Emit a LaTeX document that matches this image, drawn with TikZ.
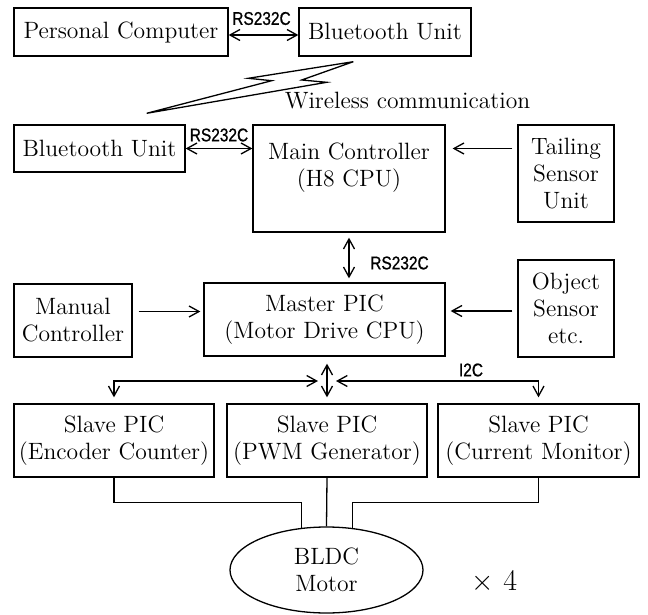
\documentclass[tikz,border=0pt]{standalone}
\usepackage{fontspec}
\newfontfamily\sigfont[FakeStretch=0.84,FakeBold=0.8]{Liberation Sans}
\usetikzlibrary{arrows.meta,shapes.geometric}
\begin{document}
\begin{tikzpicture}[x=0.5pt,y=-0.5pt,>={Straight Barb[length=5pt,width=5.5pt]},
    box/.style={draw,line width=0.65pt,align=center,inner sep=1pt,font=\fontsize{11.8}{13.5}\selectfont},
    sig/.style={font=\sigfont\fontsize{9.2}{10}\selectfont,inner sep=0pt},
    link/.style={line width=0.65pt}]
    \useasboundingbox (0,0) rectangle (648,615);
    % top row
    \node[box,minimum width=107pt,minimum height=24pt] (pc) at (121,32) {Personal Computer};
    \node[box,minimum width=86pt,minimum height=24pt] (btA) at (385,32) {Bluetooth Unit};
    \draw[link,<->] ([yshift=-1.5pt]pc.east) -- ([yshift=-1.5pt]btA.west);
    \node[sig] (rsA) at (261.5,18.5) {RS232C};
    % wireless link
    \draw[link] (146.7,113.3) -- (271.7,80.7) -- (248.3,78.3) -- (353.3,61.7)
        -- (301.7,80) -- (326.7,82.3) -- cycle;
    \node[box,draw=none] (wl) at (407.5,101) {Wireless communication};
    % main controller row
    \node[box,minimum width=85.5pt,minimum height=23.5pt] (btB) at (99.5,148.5) {Bluetooth Unit};
    \node[box,minimum width=96pt,minimum height=53.5pt] (main) at (349,178.5) {Main Controller\\(H8 CPU)\\\mbox{}};
    \node[box,minimum width=48pt,minimum height=48.5pt] (tail) at (566,173.5) {Tailing\\Sensor\\Unit};
    \draw[link,<->] (btB.east) -- (btB.east -| main.west);
    \node[sig] (rsB) at (219,135) {RS232C};
    \draw[link,->,shorten <=2.5pt,shorten >=3.5pt] (tail.west |- btB.east) -- (btB.east -| main.east);
    % master row
    \node[box,minimum width=59pt,minimum height=36.5pt] (manual) at (73,320.5) {Manual\\Controller};
    \node[box,minimum width=120.5pt,minimum height=36.5pt] (master) at (324.5,319.5) {Master PIC\\(Motor Drive CPU)};
    \node[box,minimum width=48pt,minimum height=48.5pt] (object) at (566,308.5) {Object\\Sensor\\etc.};
    \draw[link,<->,shorten <=2.5pt,shorten >=2pt] (main.south) -- (main.south |- master.north);
    \node[sig] (rsC) at (399.5,263) {RS232C};
    \draw[link,->,shorten <=3pt,shorten >=1.5pt] ([yshift=4.5pt]manual.east) -- ([yshift=4.5pt]manual.east -| master.west);
    \draw[link,->,shorten <=2.5pt,shorten >=2.5pt] ([yshift=-1.25pt]object.west) -- ([yshift=-1.25pt]object.west -| master.east);
    % slaves on the I2C bus
    \node[box,minimum width=100pt,minimum height=36.5pt] (enc) at (114,440.5) {Slave PIC\\(Encoder Counter)};
    \node[box,minimum width=100pt,minimum height=36.5pt] (pwm) at (327,440.5) {Slave PIC\\(PWM Generator)};
    \node[box,minimum width=100.5pt,minimum height=36.5pt] (cur) at (538.5,440.5) {Slave PIC\\(Current Monitor)};
    \coordinate (hub) at (327,381);
    \draw[link,<->,shorten <=3.5pt,shorten >=3pt] (master.south -| hub) -- (pwm.north);
    \draw[link,<->] ([xshift=-4.5pt]hub) -| ([yshift=3pt]enc.north);
    \draw[link,<->] ([xshift=4.5pt]hub) -| ([yshift=3pt]cur.north);
    \node[sig] (i2c) at (471,370) {I2C};
    % motor
    \node[box,ellipse,minimum width=96.5pt,minimum height=43pt] (motor) at (326.5,570) {BLDC\\Motor};
    \draw[link] (enc.south) -- ++(0,25) -| (motor.121);
    \draw[link] (pwm.south) -- (motor.north);
    \draw[link] (cur.south) -- ++(0,25) -| (motor.58);
    \node[font=\fontsize{15}{18}\selectfont] (times) at (494.5,582) {$\times$~4};
\end{tikzpicture}
\end{document}
